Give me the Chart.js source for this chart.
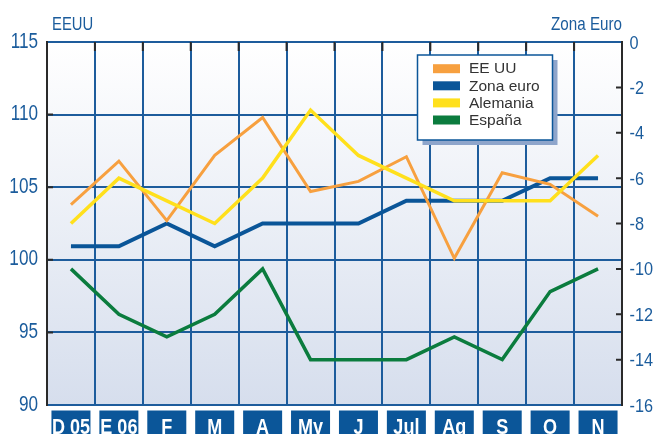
<!DOCTYPE html>
<html>
<head>
<meta charset="utf-8">
<script src="https://cdn.jsdelivr.net/npm/chart.js@4"></script>
<style>
  html, body { margin: 0; padding: 0; background: #fff; }
  #wrap { width: 653px; height: 434px; }
</style>
</head>
<body>
<div id="wrap"><canvas id="grafico" width="653" height="434"></canvas></div>
<script>
// meses y series
const meses = ['D 05', 'E 06', 'F', 'M', 'A', 'My', 'J', 'Jul', 'Ag', 'S', 'O', 'N'];
const eeuu = [103.8, 106.8, 102.7, 107.2, 109.8, 104.7, 105.4, 107.1, 100.1, 106.0, 105.2, 103.0];
const zonaEuro = [-9, -9, -8, -9, -8, -8, -8, -7, -7, -7, -6, -6];
const alemania = [-8, -6, -7, -8, -6, -3, -5, -6, -7, -7, -7, -5];
const espana = [-10, -12, -13, -12, -10, -14, -14, -14, -13, -14, -11, -10];

const tituloIzq = 'EEUU';
const tituloDer = 'Zona Euro';

const azul = '#0b5699';
const azulTexto = '#1b5c9c';
const oscuro = '#2a2a2a';
const arial = '"Liberation Sans", Arial, sans-serif';

// texto estrechado horizontalmente (tipo Helvetica Condensed)
function textoEstrecho(ctx, txt, x, y, k) {
  ctx.save();
  ctx.translate(x, y);
  ctx.scale(k, 1);
  ctx.fillText(txt, 0, 0);
  ctx.restore();
}

const decor = {
  id: 'decor',
  beforeDraw(chart) {
    const { ctx, chartArea: a } = chart;
    const g = ctx.createLinearGradient(0, a.top, 0, a.bottom);
    g.addColorStop(0, '#ffffff');
    g.addColorStop(1, '#d6deed');
    ctx.save();
    ctx.fillStyle = g;
    ctx.fillRect(a.left, a.top, a.right - a.left, a.bottom - a.top);
    ctx.restore();
  },
  afterDraw(chart) {
    const { ctx, chartArea: a, scales } = chart;
    const x = scales.x, yl = scales.y, yr = scales.y2;
    ctx.save();

    // marcas oscuras interiores
    ctx.strokeStyle = oscuro;
    ctx.lineWidth = 2;
    ctx.beginPath();
    yl.ticks.forEach(t => {
      const py = yl.getPixelForValue(t.value);
      if (py > a.top + 2 && py < a.bottom - 2) { ctx.moveTo(a.left, py); ctx.lineTo(a.left + 6, py); }
    });
    yr.ticks.forEach(t => {
      const py = yr.getPixelForValue(t.value);
      if (py > a.top + 2 && py < a.bottom - 2) { ctx.moveTo(a.right - 6, py); ctx.lineTo(a.right, py); }
    });
    for (let i = 1; i < meses.length; i++) {
      const px = (x.getPixelForValue(i - 1) + x.getPixelForValue(i)) / 2;
      ctx.moveTo(px, a.top); ctx.lineTo(px, a.top + 9);
    }
    ctx.stroke();

    // valores de los ejes verticales
    ctx.fillStyle = azulTexto;
    ctx.textBaseline = 'middle';
    ctx.font = '22px ' + arial;
    ctx.textAlign = 'right';
    yl.ticks.forEach(t => textoEstrecho(ctx, t.label, a.left - 9, yl.getPixelForValue(t.value) - 0.5, 0.78));
    ctx.font = '18.5px ' + arial;
    ctx.textAlign = 'left';
    yr.ticks.forEach(t => textoEstrecho(ctx, t.label, a.right + 7.5, yr.getPixelForValue(t.value) + 1.5, 0.88));

    // etiquetas de meses en recuadros
    ctx.font = 'bold 22px ' + arial;
    ctx.textAlign = 'center';
    ctx.textBaseline = 'alphabetic';
    meses.forEach((m, i) => {
      const px = x.getPixelForValue(i);
      ctx.fillStyle = azul;
      ctx.fillRect(px - 19.5, a.bottom + 5.5, 39, 30);
      ctx.fillStyle = '#ffffff';
      textoEstrecho(ctx, m, px, 434, 0.82);
    });

    // títulos de ejes
    ctx.fillStyle = azulTexto;
    ctx.font = '19px ' + arial;
    ctx.textAlign = 'left';
    textoEstrecho(ctx, tituloIzq, 52, 30, 0.78);
    ctx.textAlign = 'right';
    textoEstrecho(ctx, tituloDer, a.right, 30, 0.8);

    // leyenda
    const lx = 417.5, ly = 55, lw = 135, lh = 85;
    ctx.fillStyle = '#8ea5cb';
    ctx.fillRect(lx + 5, ly + 5, lw, lh);
    ctx.fillStyle = '#ffffff';
    ctx.fillRect(lx, ly, lw, lh);
    ctx.strokeStyle = azul;
    ctx.lineWidth = 1.5;
    ctx.strokeRect(lx, ly, lw, lh);
    ctx.font = '15.5px ' + arial;
    ctx.textAlign = 'left';
    ctx.textBaseline = 'middle';
    chart.data.datasets.forEach((ds, i) => {
      const cy = 68.7 + i * 17.1;
      ctx.fillStyle = ds.borderColor;
      ctx.fillRect(433, cy - 4.5, 27, 9);
      ctx.fillStyle = '#333333';
      ctx.fillText(ds.label, 469, cy + 0.5);
    });
    ctx.restore();
  }
};

new Chart('grafico', {
  type: 'line',
  data: {
    labels: meses,
    datasets: [
      { label: 'EE UU', data: eeuu, yAxisID: 'y', borderColor: '#f7a03f', borderWidth: 3, order: 1 },
      { label: 'Zona euro', data: zonaEuro, yAxisID: 'y2', borderColor: '#0a5598', borderWidth: 4, order: 2 },
      { label: 'Alemania', data: alemania, yAxisID: 'y2', borderColor: '#ffe01c', borderWidth: 3.5, order: 0 },
      { label: 'España', data: espana, yAxisID: 'y2', borderColor: '#0b7c3e', borderWidth: 3.5, order: 3 }
    ]
  },
  options: {
    responsive: false,
    animation: false,
    events: [],
    layout: { padding: { top: 42, left: 0, right: 0, bottom: 0 } },
    elements: { point: { radius: 0 }, line: { tension: 0, borderJoinStyle: 'miter' } },
    plugins: { legend: { display: false }, tooltip: { enabled: false } },
    scales: {
      x: {
        offset: true,
        grid: { offset: true, color: '#1d5c9c', lineWidth: 2, drawTicks: false },
        border: { color: '#1d5c9c', width: 2 },
        ticks: { display: false },
        afterFit(s) { s.height = 29; }
      },
      y: {
        position: 'left',
        min: 90, max: 115,
        ticks: { stepSize: 5, display: false },
        grid: { color: '#1d5c9c', lineWidth: 2, drawTicks: false },
        border: { color: oscuro, width: 2 },
        afterFit(s) { s.width = 47; }
      },
      y2: {
        position: 'right',
        min: -16, max: 0,
        ticks: { stepSize: 2, display: false },
        grid: { drawOnChartArea: false, drawTicks: false },
        border: { color: oscuro, width: 2 },
        afterFit(s) { s.width = 31; }
      }
    }
  },
  plugins: [decor]
});
</script>
</body>
</html>
